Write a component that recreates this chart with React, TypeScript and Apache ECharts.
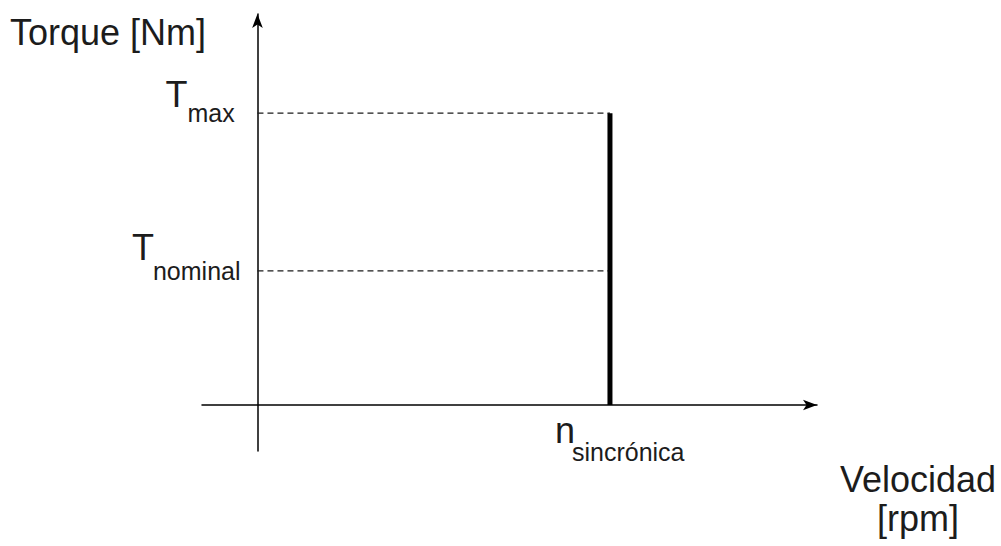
import React, { useEffect, useRef } from "react";
import * as echarts from "echarts";

// Synchronous speed and the two torque levels of the idealised characteristic
const speedLevels = [1500];
const torqueLevels = [100, 46];
const speedLabels = ["n", "sincrónica"];
const torqueLabels = [
  ["T", "max"],
  ["T", "nominal"],
];
const axisTitles = ["Torque [Nm]", "Velocidad", "[rpm]"];

// Axis extents (beyond the origin on both sides, like a hand-drawn sketch)
const xRange = [-236, 2381];
const yRange = [-15.75, 134];

const FONT = "'Liberation Sans', Arial, Helvetica, sans-serif";
const INK = "#1c1c1c";

export default function App() {
  const ref = useRef<HTMLDivElement>(null);

  useEffect(() => {
    if (!ref.current) return;
    const chart = echarts.init(ref.current, undefined, { renderer: "svg" });
    const nSync = speedLevels[0];
    const [tMax, tNom] = torqueLevels;

    const axisLine = {
      show: true,
      onZero: true,
      symbol: ["none", "arrow"],
      symbolSize: [8, 14],
      lineStyle: { color: "#000", width: 1.5 },
    };

    chart.setOption({
      animation: false,
      backgroundColor: "#fff",
      grid: { left: 202, right: 184, top: 14, bottom: 95 },
      xAxis: {
        type: "value",
        min: xRange[0],
        max: xRange[1],
        axisLine,
        axisTick: { show: false },
        axisLabel: { show: false },
        splitLine: { show: false },
      },
      yAxis: {
        type: "value",
        min: yRange[0],
        max: yRange[1],
        axisLine,
        axisTick: { show: false },
        axisLabel: { show: false },
        splitLine: { show: false },
      },
      series: [
        ...torqueLevels.map((t) => ({
          type: "line",
          data: [
            [0, t],
            [nSync, t],
          ],
          symbol: "none",
          silent: true,
          lineStyle: { color: INK, width: 1.2, type: [6, 4] },
          z: 1,
        })),
        {
          type: "line",
          data: [
            [nSync, 0],
            [nSync, tMax],
          ],
          symbol: "none",
          silent: true,
          lineStyle: { color: "#000", width: 5, cap: "butt" },
          z: 3,
        },
      ],
    });

    // Place labels relative to the marks, using the chart's own scales
    const px = (x: number, y: number) =>
      chart.convertToPixel({ gridIndex: 0 }, [x, y]) as number[];

    const txt = (text: string, x: number, baseline: number, size: number, align = "left") => ({
      type: "text",
      silent: true,
      style: {
        text,
        x,
        y: baseline - 0.35 * size,
        font: `${size}px ${FONT}`,
        fill: INK,
        align,
        verticalAlign: "middle",
      },
    });

    const pMax = px(0, tMax);
    const pNom = px(0, tNom);
    const pN = px(nSync, 0);

    chart.setOption({
      graphic: [
        txt(torqueLabels[0][0], pMax[0] - 92, pMax[1] - 6, 36),
        txt(torqueLabels[0][1], pMax[0] - 70, pMax[1] + 9, 25),
        txt(torqueLabels[1][0], pNom[0] - 125.5, pNom[1] - 11, 36),
        txt(torqueLabels[1][1], pNom[0] - 104.5, pNom[1] + 9, 25),
        txt(speedLabels[0], pN[0] - 55, pN[1] + 38, 36),
        txt(speedLabels[1], pN[0] - 38, pN[1] + 56, 25),
        txt(axisTitles[0], 10, 45, 36),
        txt(axisTitles[1], 918, 492, 36, "center"),
        txt(axisTitles[2], 918, 531, 36, "center"),
      ],
    });

    return () => chart.dispose();
  }, []);

  return (
    <div
      ref={ref}
      style={{ position: "fixed", left: 0, top: 0, width: 1001, height: 546, background: "#fff" }}
    />
  );
}
